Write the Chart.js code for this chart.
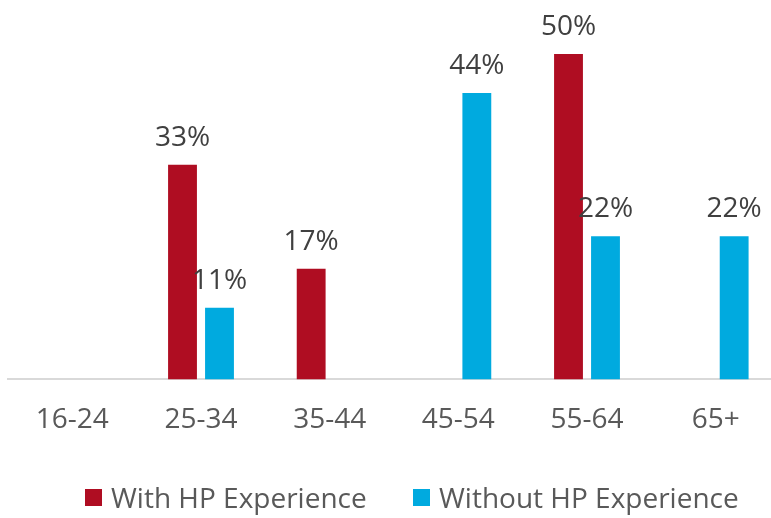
<!DOCTYPE html>
<html>
<head>
<meta charset="utf-8">
<script src="https://cdn.jsdelivr.net/npm/chart.js@4"></script>
<style>
  html, body { margin: 0; padding: 0; background: #fff; overflow: hidden; }
  #wrap { position: relative; width: 780px; height: 518px; }
  #legend { position: absolute; top: 478px; left: 0; width: 771px; height: 38px;
            font-family: "Open Sans", sans-serif; font-size: 28px; color: #595959; }
  .item { position: absolute; top: 0; display: flex; align-items: center; height: 38px; white-space: nowrap; }
  .box { width: 17px; height: 17px; margin-right: 9px; }
</style>
</head>
<body>
<div id="wrap">
  <canvas id="chart" width="780" height="518"></canvas>
  <div id="legend"></div>
</div>
<script>
var categories = ["16-24", "25-34", "35-44", "45-54", "55-64", "65+"];
var withHP = [null, 33, 17, null, 50, null];
var withoutHP = [null, 11, null, 44, 22, 22];
var seriesNames = ["With HP Experience", "Without HP Experience"];
var seriesColors = ["#AF0D22", "#00AADF"];
var legendLeft = [85, 413];

// percentage labels above each bar
var barLabels = {
    id: "barLabels",
    afterDatasetsDraw: function (chart) {
        var ctx = chart.ctx;
        ctx.save();
        ctx.font = "28px 'Open Sans', sans-serif";
        ctx.fillStyle = "#404040";
        ctx.textAlign = "center";
        ctx.textBaseline = "alphabetic";
        chart.data.datasets.forEach(function (ds, i) {
            chart.getDatasetMeta(i).data.forEach(function (bar, j) {
                if (ds.data[j] == null) return;
                ctx.fillText(ds.data[j] + "%", bar.x, bar.y - 19);
            });
        });
        ctx.restore();
    }
};

var ctx = document.getElementById("chart");
var chart = new Chart(ctx, {
    type: "bar",
    data: {
        labels: categories,
        datasets: [
            { label: seriesNames[0], data: withHP, backgroundColor: seriesColors[0] },
            { label: seriesNames[1], data: withoutHP, backgroundColor: seriesColors[1] }
        ]
    },
    options: {
        responsive: false,
        animation: false,
        categoryPercentage: 0.575,
        barPercentage: 0.78,
        layout: { padding: { top: 2, left: 8, right: 0, bottom: 57 } },
        plugins: { legend: { display: false }, tooltip: { enabled: false } },
        scales: {
            x: {
                grid: { display: false, drawTicks: false },
                border: { display: true, color: "#D9D9D9", width: 2 },
                ticks: { padding: 24, color: "#595959", font: { family: "'Open Sans', sans-serif", size: 28 } }
            },
            y: { display: false, min: 0, max: 58 }
        }
    },
    plugins: [barLabels]
});

// legend drawn as html
var legend = document.getElementById("legend");
for (var i = 0; i < seriesNames.length; i++) {
    var item = document.createElement("div");
    item.className = "item";
    item.style.left = legendLeft[i] + "px";
    var box = document.createElement("span");
    box.className = "box";
    box.style.background = seriesColors[i];
    item.appendChild(box);
    item.appendChild(document.createTextNode(seriesNames[i]));
    legend.appendChild(item);
}
</script>
</body>
</html>
